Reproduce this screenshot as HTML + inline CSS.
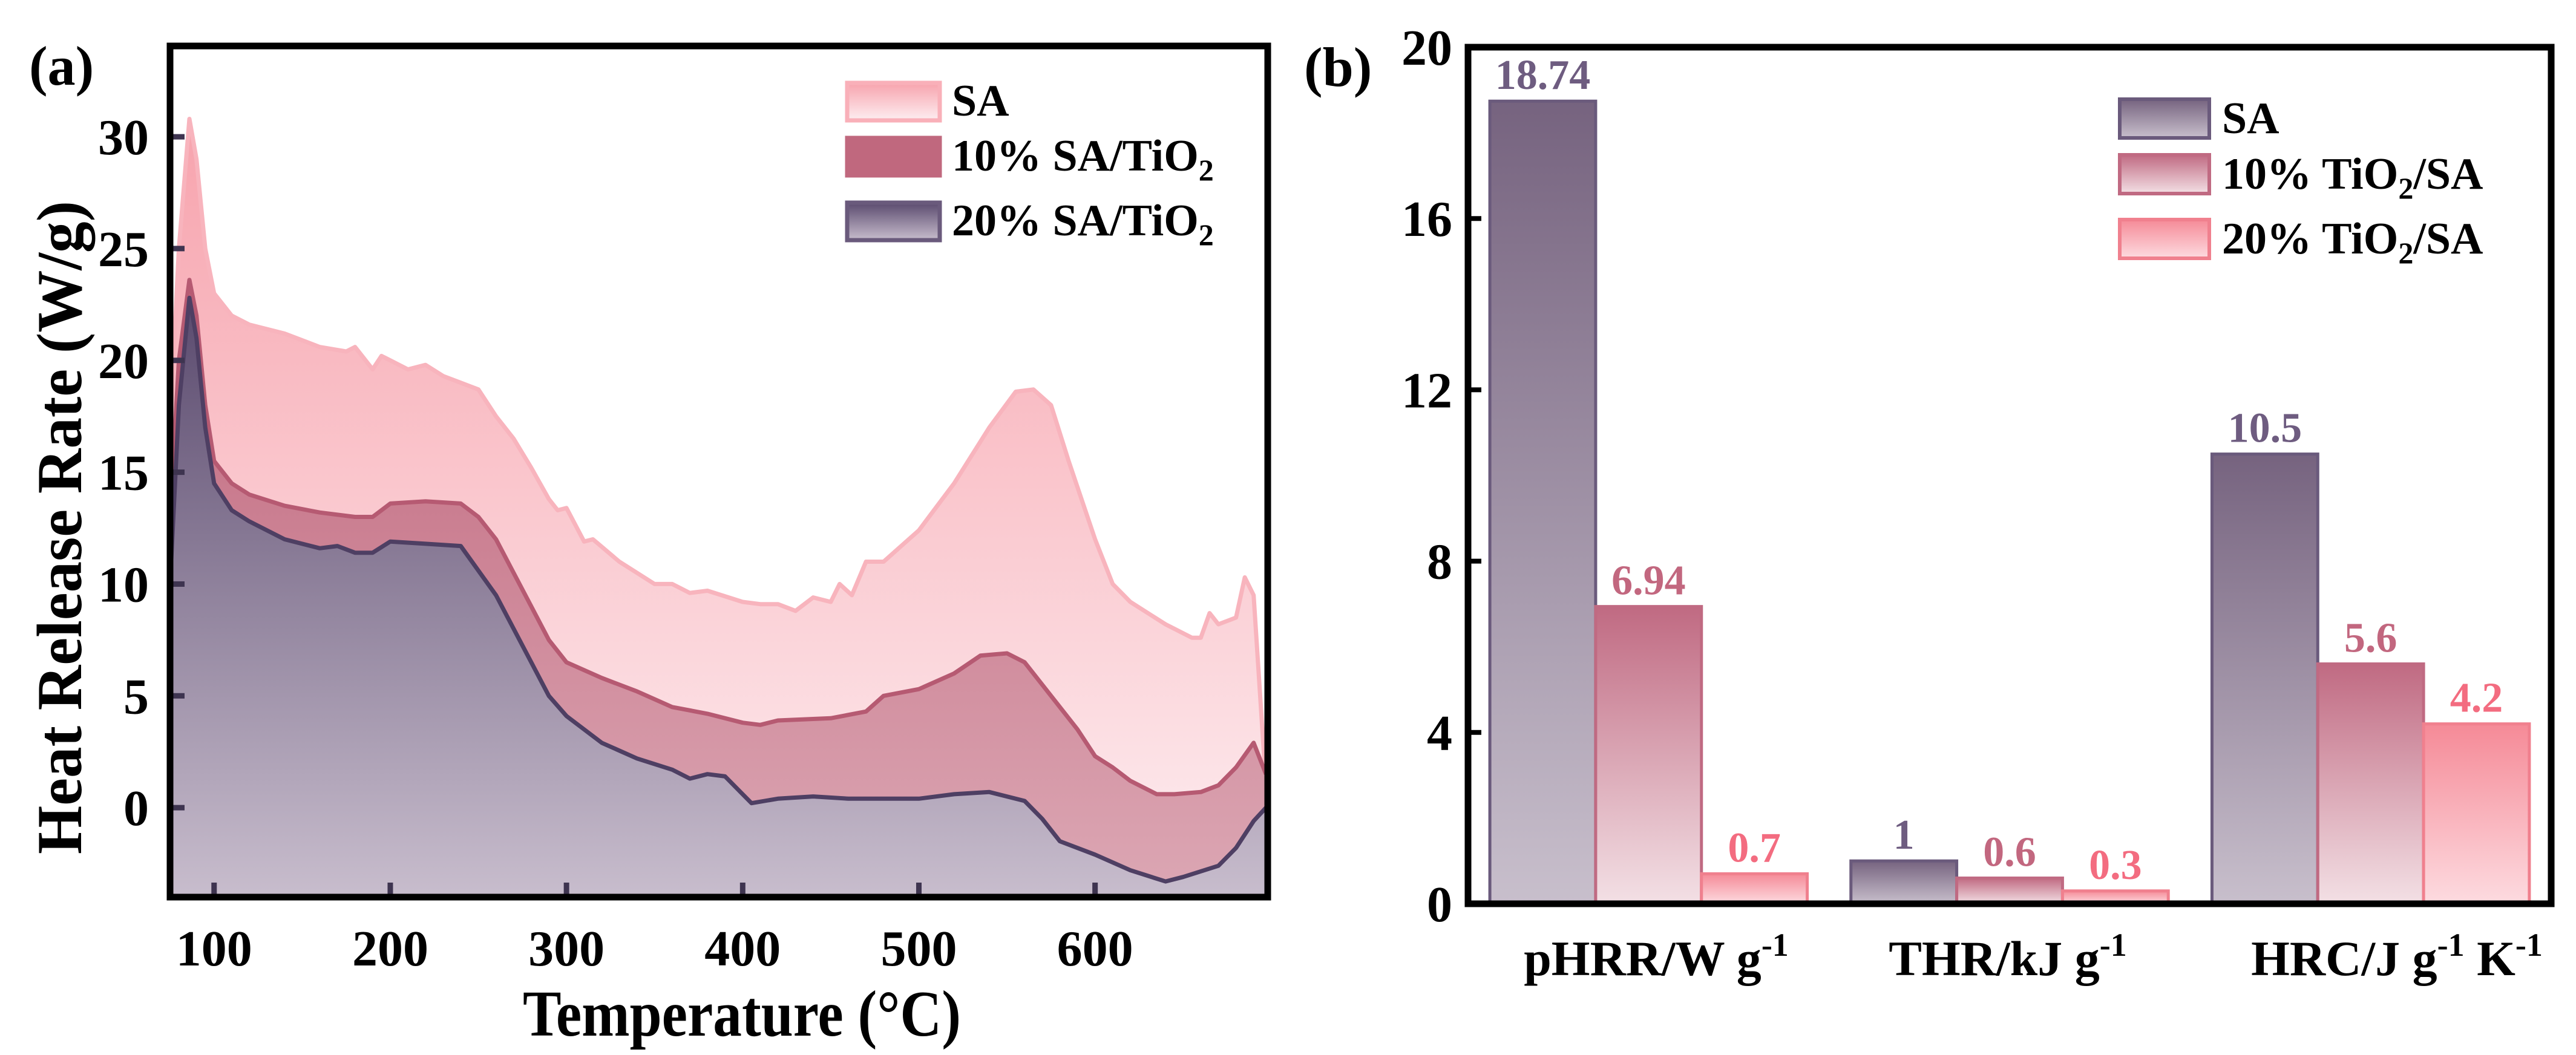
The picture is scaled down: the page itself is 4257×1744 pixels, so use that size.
<!DOCTYPE html>
<html><head><meta charset="utf-8">
<style>
html,body{margin:0;padding:0;background:#fff;}
svg{display:block;font-family:"Liberation Serif",serif;font-weight:bold;}
</style></head>
<body>
<svg id="fig" width="4257" height="1744" viewBox="0 0 4257 1744" xmlns="http://www.w3.org/2000/svg">
<defs>
<linearGradient id="gSA" x1="0" y1="0" x2="0" y2="1"><stop offset="0" stop-color="#f7a3ad"/><stop offset="1" stop-color="#fdeef1"/></linearGradient>
<linearGradient id="g10" x1="0" y1="0" x2="0" y2="1"><stop offset="0" stop-color="#c0667c"/><stop offset="1" stop-color="#dca7b4"/></linearGradient>
<linearGradient id="g20" x1="0" y1="0" x2="0" y2="1"><stop offset="0" stop-color="#5a4a6e"/><stop offset="1" stop-color="#c8bdcd"/></linearGradient>
<linearGradient id="bSA" x1="0" y1="0" x2="0" y2="1"><stop offset="0" stop-color="#76637f"/><stop offset="1" stop-color="#c8bfcc"/></linearGradient>
<linearGradient id="b10" x1="0" y1="0" x2="0" y2="1"><stop offset="0" stop-color="#c06a82"/><stop offset="1" stop-color="#f3e0e5"/></linearGradient>
<linearGradient id="b20" x1="0" y1="0" x2="0" y2="1"><stop offset="0" stop-color="#f58a97"/><stop offset="1" stop-color="#fddbe0"/></linearGradient>
</defs>
<g id="pa"></g>
<g id="pb"></g>
</svg>
<script>
// ---------- Panel (a) data ----------
const saT = [75,80,86,90,95,100,110,120,140,160,175,180,190,195,200,210,220,230,240,250,260,270,280,290,295,300,310,315,330,350,360,370,380,400,410,420,430,440,450,455,462,470,480,500,520,540,555,565,575,585,600,610,620,640,655,660,665,670,680,685,690,697];
const saV = [17,25,30.8,29,25,23,22,21.6,21.2,20.6,20.4,20.6,19.6,20.2,20.0,19.6,19.8,19.3,19.0,18.7,17.5,16.5,15.2,13.8,13.3,13.4,11.9,12.0,11.0,10.0,10.0,9.6,9.7,9.2,9.1,9.1,8.8,9.4,9.2,10.0,9.5,11.0,11.0,12.4,14.5,17.0,18.6,18.7,18.0,15.5,12.0,10.0,9.2,8.2,7.6,7.6,8.7,8.2,8.5,10.3,9.5,1];
const t10T = [75,80,86,90,95,100,110,120,140,160,180,190,200,220,240,250,260,270,280,290,300,320,340,360,380,400,410,420,450,470,480,500,520,535,550,560,575,590,600,610,620,635,645,660,670,680,690,697];
const t10V = [13,20,23.6,22,18,15.5,14.5,14.0,13.5,13.2,13.0,13.0,13.6,13.7,13.6,13.0,12.0,10.5,9.0,7.5,6.5,5.8,5.2,4.5,4.2,3.8,3.7,3.9,4.0,4.3,5.0,5.3,6.0,6.8,6.9,6.5,5.0,3.5,2.3,1.8,1.2,0.6,0.6,0.7,1.0,1.8,2.9,1.5];
const t20T = [75,80,86,90,95,100,110,120,140,160,170,180,190,200,220,240,250,260,270,280,290,300,320,340,360,370,380,390,400,405,420,440,460,480,500,520,540,560,570,580,600,620,640,650,670,680,690,697];
const t20V = [10,18,22.8,21,17,14.5,13.3,12.8,12.0,11.6,11.7,11.4,11.4,11.9,11.8,11.7,10.6,9.5,8.0,6.5,5.0,4.1,2.9,2.2,1.7,1.3,1.5,1.4,0.6,0.2,0.4,0.5,0.4,0.4,0.4,0.6,0.7,0.3,-0.5,-1.5,-2.1,-2.8,-3.3,-3.1,-2.6,-1.8,-0.6,0];
const aXTicks = [100,200,300,400,500,600];
const aYTicks = [0,5,10,15,20,25,30];
const aSeriesNames = ["SA","10% SA/TiO","20% SA/TiO"];

// ---------- Panel (b) data ----------
const categories = ["pHRR/W g","THR/kJ g","HRC/J g"];
const barSA = [18.74,1,10.5];
const bar10 = [6.94,0.6,5.6];
const bar20 = [0.7,0.3,4.2];
const barLabelsSA = ["18.74","1","10.5"];
const barLabels10 = ["6.94","0.6","5.6"];
const barLabels20 = ["0.7","0.3","4.2"];
const bYTicks = [0,4,8,12,16,20];

const NS = "http://www.w3.org/2000/svg";
function mk(parent, tag, attrs, text){
  const e = document.createElementNS(NS, tag);
  for (const k in attrs) e.setAttribute(k, attrs[k]);
  if (text !== undefined) e.textContent = text;
  parent.appendChild(e);
  return e;
}

// ===== Panel A =====
const pa = document.getElementById('pa');
const AL=281, AR=2095, AT=76, AB=1483, XMIN=75, XMAX=698, YMIN=-4, YMAX=34.06;
const ax = t => AL + (t - XMIN) / (XMAX - XMIN) * (AR - AL);
const ay = v => AB - (v - YMIN) / (YMAX - YMIN) * (AB - AT);

function area(T, V, fill, stroke, name){
  let d = "M" + ax(T[0]) + "," + AB;
  for (let i = 0; i < T.length; i++) d += " L" + ax(T[i]).toFixed(1) + "," + ay(V[i]).toFixed(1);
  d += " L" + ax(T[T.length-1]) + "," + AB + " Z";
  const p = mk(pa, 'path', {d: d, fill: fill});
  
  
  let l = "M" + ax(T[0]).toFixed(1) + "," + ay(V[0]).toFixed(1);
  for (let i = 1; i < T.length; i++) l += " L" + ax(T[i]).toFixed(1) + "," + ay(V[i]).toFixed(1);
  const ln = mk(pa, 'path', {d: l, fill: 'none', stroke: stroke, 'stroke-width': 7, 'stroke-linejoin': 'round'});
  
  
}
area(saT, saV, 'url(#gSA)', '#f8b4bd', 'sa-series');
area(t10T, t10V, 'url(#g10)', '#b65a72', 'sa-10-series');
area(t20T, t20V, 'url(#g20)', '#4e3f63', 'sa-20-series');

aXTicks.forEach(t => {
  const tk = mk(pa, 'line', {x1: ax(t), x2: ax(t), y1: AB, y2: AB - 24, stroke: '#3e3450', 'stroke-width': 9});
  
  
  const lb = mk(pa, 'text', {x: ax(t), y: 1596, 'font-size': 84, 'text-anchor': 'middle'}, String(t));
  
  
});
aYTicks.forEach(v => {
  const tk = mk(pa, 'line', {x1: AL, x2: AL + 24, y1: ay(v), y2: ay(v), stroke: '#3e3450', 'stroke-width': 9});
  
  
  const lb = mk(pa, 'text', {x: 246, y: ay(v) + 29, 'font-size': 84, 'text-anchor': 'end'}, String(v));
  
  
});
const fa = mk(pa, 'rect', {x: AL, y: AT, width: AR - AL, height: AB - AT, fill: 'none', stroke: '#000', 'stroke-width': 11});


const xt = mk(pa, 'text', {x: 864, y: 1712, 'font-size': 108, textLength: 724, lengthAdjust: 'spacingAndGlyphs'}, 'Temperature (°C)');


const yt = mk(pa, 'text', {x: -540, y: 0, 'font-size': 106, textLength: 1080, lengthAdjust: 'spacingAndGlyphs', transform: 'translate(134,872) rotate(-90)'}, 'Heat Release Rate (W/g)');


const la = mk(pa, 'text', {x: 48, y: 140, 'font-size': 92}, '(a)');



const legA = [['url(#gSA)', '#f9b0b9', 137], ['#c0687e', '#c0687e', 228], ['url(#g20)', '#6a5a7c', 335]];
legA.forEach((L, i) => {
  const r = mk(pa, 'rect', {x: 1400, y: L[2], width: 153, height: 62, fill: L[0], stroke: L[1], 'stroke-width': 7});
  
  
  const tx = mk(pa, 'text', {x: 1573, y: L[2] + 54, 'font-size': 74}, aSeriesNames[i]);
  
  
  if (i > 0) { mk(tx, 'tspan', {'font-size': 50, dy: 16}, '2'); }
});

// ===== Panel B =====
const pb = document.getElementById('pb');
const BL=2426, BR=4216, BT=78, BB=1494, BMAX=20;
const by = v => BB - v / BMAX * (BB - BT);
const band = (BR - BL) / categories.length;
const bw = band * 0.293;
const bcx = i => BL + (i + 0.5) * band;
const series = [
  [barSA, barLabelsSA, 'url(#bSA)', '#6a5a7c', '#6e5c80', 'bar-sa'],
  [bar10, barLabels10, 'url(#b10)', '#c06a82', '#c2677f', 'bar-10'],
  [bar20, barLabels20, 'url(#b20)', '#f0808e', '#f36c80', 'bar-20']
];
series.forEach((S, j) => {
  S[0].forEach((v, i) => {
    const x = bcx(i) + (j - 1.5) * bw;
    const r = mk(pb, 'rect', {x: x, y: by(v), width: bw, height: BB - by(v), fill: S[2], stroke: S[3], 'stroke-width': 5});
    
    
    const t = mk(pb, 'text', {x: x + bw / 2, y: by(v) - 20, 'font-size': 70, 'text-anchor': 'middle', fill: S[4]}, S[1][i]);
    
    
  });
});
bYTicks.forEach(v => {
  const tk = mk(pb, 'line', {x1: BL, x2: BL + 22, y1: by(v), y2: by(v), stroke: '#000', 'stroke-width': 8});
  
  
  const lb = mk(pb, 'text', {x: 2400, y: by(v) + 29, 'font-size': 84, 'text-anchor': 'end'}, String(v));
  
  
});
const fb = mk(pb, 'rect', {x: BL, y: BT, width: BR - BL, height: BB - BT, fill: 'none', stroke: '#000', 'stroke-width': 11});


const catX = [2737, 3318, 3961];
categories.forEach((c, i) => {
  const t = mk(pb, 'text', {x: catX[i], y: 1612, 'font-size': 82, 'text-anchor': 'middle'}, c);
  
  
  mk(t, 'tspan', {'font-size': 54, dy: -32}, '-1');
  if (i === 2) { mk(t, 'tspan', {dy: 32}, ' K'); mk(t, 'tspan', {'font-size': 54, dy: -32}, '-1'); }
});
const lb2 = mk(pb, 'text', {x: 2155, y: 142, 'font-size': 92}, '(b)');


const legB = [['url(#bSA)', '#6a5a7c', 164, 'SA'], ['url(#b10)', '#c06a82', 256, '10% TiO'], ['url(#b20)', '#f0808e', 363, '20% TiO']];
legB.forEach((L, i) => {
  const r = mk(pb, 'rect', {x: 3503, y: L[2], width: 148, height: 64, fill: L[0], stroke: L[1], 'stroke-width': 6});
  
  
  const tx = mk(pb, 'text', {x: 3672, y: L[2] + 56, 'font-size': 74}, L[3]);
  
  
  if (i > 0) { mk(tx, 'tspan', {'font-size': 50, dy: 16}, '2'); mk(tx, 'tspan', {dy: -16}, '/SA'); }
});
</script>
</body></html>
